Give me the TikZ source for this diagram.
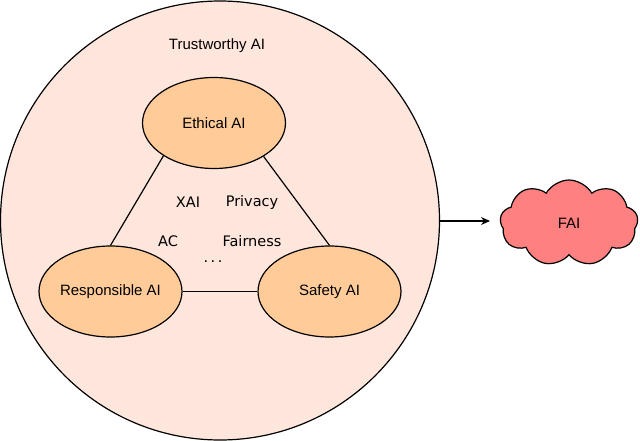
\documentclass[tikz,border=0pt]{standalone}
\usepackage{fontspec}
\setmainfont{Liberation Sans}
\newfontfamily\comicfont{DejaVu Sans}
\usetikzlibrary{shapes.geometric,shapes.symbols,arrows.meta}
\definecolor{bigfill}{HTML}{FFE6DC}
\definecolor{ellfill}{HTML}{FFCC99}
\definecolor{cloudfill}{HTML}{FF8080}
\tikzset{
  aibox/.style={ellipse,draw=black,line width=1.2pt,fill=ellfill,minimum width=143pt,minimum height=91pt,inner sep=0pt,font=\fontsize{15}{18}\selectfont},
  lbl/.style={font=\fontsize{15}{18}\selectfont,inner sep=0pt},
  clbl/.style={font=\comicfont\fontsize{14.5}{17}\selectfont,inner sep=0pt},
  link/.style={draw=black,line width=1.2pt},
}
\begin{document}
\begin{tikzpicture}[x=1pt,y=-1pt]
\useasboundingbox (0,0) rectangle (640,441);
\node[circle,draw=black,line width=1.2pt,fill=bigfill,minimum size=439pt,inner sep=0pt] (big) at (220,220.5) {};
\node[lbl] (tai) at (217,46) {Trustworthy AI};
\node[aibox] (eth) at (214,123) {Ethical AI};
\node[aibox] (resp) at (110.5,291.5) {Responsible AI};
\node[aibox] (saf) at (329.5,291.5) {Safety AI};
\draw[link] (eth.213.7) -- (resp.north);
\draw[link] (eth.326.3) -- (saf.north);
\draw[link] (resp.east) -- (saf.west);
\node[clbl] (xai) at (188,202) {XAI};
\node[clbl] (priv) at (252,202) {Privacy};
\node[clbl] (ac) at (168,241) {AC};
\node[clbl] (fair) at (252,241) {Fairness};
\node[clbl] (dots) at (213,262) {.\hspace{2.5pt}.\hspace{2.5pt}.};
\node[cloud,cloud puffs=9,cloud puff arc=120,aspect=1.6,draw=black,line width=1.2pt,fill=cloudfill,minimum width=138pt,minimum height=86pt,inner sep=0pt,font=\fontsize{15}{18}\selectfont] (fai) at (569,223) {FAI};
\coordinate (arrend) at (490,221);
\draw[link,-{Stealth[length=9pt,width=8pt]}] (big.east |- arrend) -- (arrend);
\end{tikzpicture}
\end{document}
